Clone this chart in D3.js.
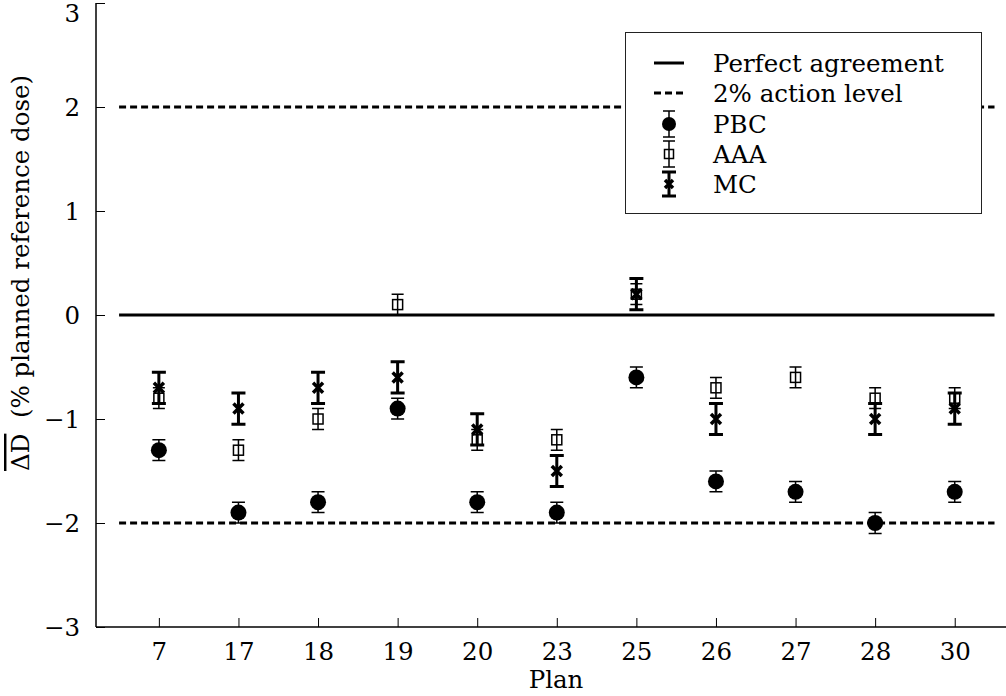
<!DOCTYPE html>
<html>
<head>
<meta charset="utf-8">
<script src="https://cdn.jsdelivr.net/npm/d3@7"></script>
<style>
  html, body { margin: 0; padding: 0; background: #fff; }
  svg { display: block; }
  svg text { font-family: "DejaVu Serif", "Liberation Serif", serif; }
</style>
</head>
<body>
<svg id="chart" width="1006" height="696"></svg>
<script>
// Plan numbers along the x axis
const plans = ["7", "17", "18", "19", "20", "23", "25", "26", "27", "28", "30"];

// Mean dose difference per plan (% of planned reference dose)
const pbcMean = [-1.3, -1.9, -1.8, -0.9, -1.8, -1.9, -0.6, -1.6, -1.7, -2.0, -1.7];
const pbcErr  = [0.1, 0.1, 0.1, 0.1, 0.1, 0.1, 0.1, 0.1, 0.1, 0.1, 0.1];

const aaaMean = [-0.8, -1.3, -1.0, 0.1, -1.2, -1.2, 0.2, -0.7, -0.6, -0.8, -0.8];
const aaaErr  = [0.1, 0.1, 0.1, 0.1, 0.1, 0.1, 0.1, 0.1, 0.1, 0.1, 0.1];

const mcMean  = [-0.7, -0.9, -0.7, -0.6, -1.1, -1.5, 0.2, -1.0, null, -1.0, -0.9];
const mcErr   = [0.15, 0.15, 0.15, 0.15, 0.15, 0.15, 0.15, 0.15, null, 0.15, 0.15];

const yTicks = [-3, -2, -1, 0, 1, 2, 3];
const actionLevel = 2;

const FONT_CSS = "'DejaVu Serif', 'Liberation Serif', serif";
const FS = 24.5;

const svg = d3.select("#chart");
const plotLeft = 96, plotBottom = 627, plotTop = 3;

const x = d3.scaleLinear().domain([-0.79, 10.77]).range([plotLeft, 1016]);
const y = d3.scaleLinear().domain([-3, 3]).range([plotBottom, plotTop]);

// Reference lines
const lineSpan = [-0.5, 10.5];
svg.append("line")
  .attr("x1", x(lineSpan[0])).attr("x2", x(lineSpan[1]))
  .attr("y1", y(0)).attr("y2", y(0))
  .attr("stroke", "#000").attr("stroke-width", 3);
[actionLevel, -actionLevel].forEach(v => {
  svg.append("line")
    .attr("x1", x(lineSpan[0])).attr("x2", x(lineSpan[1]))
    .attr("y1", y(v)).attr("y2", y(v))
    .attr("stroke", "#000").attr("stroke-width", 3)
    .attr("stroke-dasharray", "7,4");
});

// Axes (ticks point inward)
const fmt = d => (d < 0 ? "\u2212" + Math.abs(d) : String(d));
const yAxis = svg.append("g").attr("transform", `translate(${plotLeft},0)`)
  .call(d3.axisLeft(y).tickValues(yTicks).tickSize(-9).tickPadding(16).tickFormat(fmt));
const xAxis = svg.append("g").attr("transform", `translate(0,${plotBottom})`)
  .call(d3.axisBottom(x).tickValues(d3.range(plans.length)).tickSize(-9).tickPadding(15)
    .tickFormat(i => plans[i]));
[yAxis, xAxis].forEach(g => {
  g.attr("font-family", null).attr("font-size", null);
  g.select(".domain").attr("stroke", "#000").attr("stroke-width", 1.5);
  g.selectAll(".tick line").attr("stroke", "#000").attr("stroke-width", 1);
  g.selectAll(".tick text").attr("fill", "#000");
});
yAxis.select(".domain").attr("d", `M0,${plotTop}V${plotBottom}`);
xAxis.select(".domain").attr("d", `M${plotLeft},0H1006`);
yAxis.selectAll(".tick text").attr("dy", "0.36em");
// keep the top tick label inside the drawing area
yAxis.selectAll(".tick text").filter(d => d === 3).attr("dy", 0).attr("y", 18);
xAxis.selectAll(".tick text").attr("dy", 0).attr("y", 33);

// Axis titles
svg.append("text")
  .attr("x", 556).attr("y", 688)
  .attr("text-anchor", "middle")
  .text("Plan");

const yl = svg.append("text")
  .attr("transform", "translate(29,471) rotate(-90)")
  .attr("text-anchor", "start");
yl.append("tspan").style("text-decoration", "overline").text("\u0394D");
yl.append("tspan").text("\u00a0\u00a0(% planned reference dose)");

// Error bars and markers
function errorBars(g, xi, mean, err, capHalf, width) {
  const pts = mean.map((m, i) => ({ i, m, e: err[i] })).filter(d => d.m !== null);
  g.selectAll("path.eb").data(pts).join("path").attr("class", "eb")
    .attr("fill", "none").attr("stroke", "#000").attr("stroke-width", width)
    .attr("d", d => {
      const cx = xi(d.i), y1 = y(d.m + d.e), y2 = y(d.m - d.e);
      return `M${cx},${y1}V${y2}M${cx - capHalf},${y1}H${cx + capHalf}M${cx - capHalf},${y2}H${cx + capHalf}`;
    });
  return pts;
}

const gPbc = svg.append("g");
const pbcPts = errorBars(gPbc, x, pbcMean, pbcErr, 6.5, 1.5);
gPbc.selectAll("circle").data(pbcPts).join("circle")
  .attr("cx", d => x(d.i)).attr("cy", d => y(d.m)).attr("r", 8).attr("fill", "#000");

const gAaa = svg.append("g");
const aaaPts = errorBars(gAaa, x, aaaMean, aaaErr, 6, 1.5);
gAaa.selectAll("rect").data(aaaPts).join("rect")
  .attr("x", d => x(d.i) - 5).attr("y", d => y(d.m) - 5)
  .attr("width", 10).attr("height", 10)
  .attr("fill", "#fff").attr("stroke", "#000").attr("stroke-width", 1.5);
gAaa.selectAll("path.st").data(aaaPts).join("path").attr("class", "st")
  .attr("stroke", "#000").attr("stroke-width", 1.5)
  .attr("d", d => `M${x(d.i)},${y(d.m) - 5}V${y(d.m) + 5}`);

const gMc = svg.append("g");
const mcPts = errorBars(gMc, x, mcMean, mcErr, 7, 3);
gMc.selectAll("path.mk").data(mcPts).join("path").attr("class", "mk")
  .attr("stroke", "#000").attr("stroke-width", 3.5).attr("fill", "none")
  .attr("d", d => {
    const cx = x(d.i), cy = y(d.m), s = 5;
    return `M${cx - s},${cy - s}L${cx + s},${cy + s}M${cx - s},${cy + s}L${cx + s},${cy - s}`;
  });

// Legend
const lg = svg.append("g");
lg.append("rect").attr("x", 625.5).attr("y", 32.5).attr("width", 356).attr("height", 181)
  .attr("fill", "#fff").attr("stroke", "#222").attr("stroke-width", 1);
const rowY = [63, 93, 124, 154, 184];
const labels = ["Perfect agreement", "2% action level", "PBC", "AAA", "MC"];
const sx = 669;
lg.append("line").attr("x1", 654).attr("x2", 684).attr("y1", rowY[0]).attr("y2", rowY[0])
  .attr("stroke", "#000").attr("stroke-width", 3);
lg.append("line").attr("x1", 654).attr("x2", 684).attr("y1", rowY[1]).attr("y2", rowY[1])
  .attr("stroke", "#000").attr("stroke-width", 3).attr("stroke-dasharray", "7,4");
// PBC symbol
lg.append("path").attr("stroke", "#000").attr("stroke-width", 1.5).attr("fill", "none")
  .attr("d", `M${sx},${rowY[2] - 13}V${rowY[2] + 13}M${sx - 6},${rowY[2] - 13}H${sx + 6}M${sx - 6},${rowY[2] + 13}H${sx + 6}`);
lg.append("circle").attr("cx", sx).attr("cy", rowY[2]).attr("r", 7).attr("fill", "#000");
// AAA symbol
lg.append("path").attr("stroke", "#000").attr("stroke-width", 1.5).attr("fill", "none")
  .attr("d", `M${sx},${rowY[3] - 13}V${rowY[3] + 13}M${sx - 6},${rowY[3] - 13}H${sx + 6}M${sx - 6},${rowY[3] + 13}H${sx + 6}`);
lg.append("rect").attr("x", sx - 4.5).attr("y", rowY[3] - 4.5).attr("width", 9).attr("height", 9)
  .attr("fill", "#fff").attr("stroke", "#000").attr("stroke-width", 1.5);
lg.append("path").attr("stroke", "#000").attr("stroke-width", 1.5)
  .attr("d", `M${sx},${rowY[3] - 4.5}V${rowY[3] + 4.5}`);
// MC symbol
lg.append("path").attr("stroke", "#000").attr("stroke-width", 3).attr("fill", "none")
  .attr("d", `M${sx},${rowY[4] - 12}V${rowY[4] + 12}M${sx - 7},${rowY[4] - 12}H${sx + 7}M${sx - 7},${rowY[4] + 12}H${sx + 7}`);
lg.append("path").attr("stroke", "#000").attr("stroke-width", 3.5)
  .attr("d", `M${sx - 4},${rowY[4] - 4}L${sx + 4},${rowY[4] + 4}M${sx - 4},${rowY[4] + 4}L${sx + 4},${rowY[4] - 4}`);
lg.selectAll("text").data(labels).join("text")
  .attr("x", 713).attr("y", (d, i) => rowY[i]).attr("dy", "0.36em")
  .text(d => d);

// One typeface and size for every label
svg.selectAll("text")
  .style("font-family", FONT_CSS)
  .style("font-size", FS + "px");
</script>
</body>
</html>
